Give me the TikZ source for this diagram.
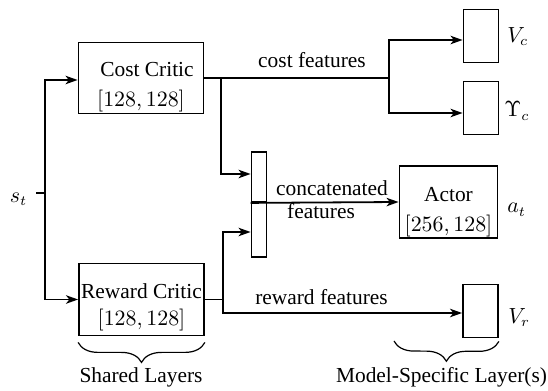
\documentclass[tikz,border=0pt]{standalone}
\usepackage[no-math]{fontspec}
\setmainfont{LiberationSerif}[Extension=.ttf, UprightFont=*-Regular, BoldFont=*-Bold, ItalicFont=*-Italic]
\usetikzlibrary{arrows.meta,decorations.pathreplacing}
\begin{document}
\begin{tikzpicture}[x=0.5pt,y=-0.5pt,
  font=\fontsize{10.7}{13}\selectfont,
  box/.style={draw, line width=0.9pt, inner sep=0pt, align=center},
  conn/.style={line width=0.9pt},
  arr/.style={conn, -{Stealth[length=6pt,width=4.2pt,inset=1.6pt]}},
  lbl/.style={inner sep=0pt},
  brc/.style={decorate, decoration={brace, mirror, amplitude=10pt}, line width=0.6pt}]
\useasboundingbox (0,0) rectangle (548,391);

% boxes
\node[box, minimum width=62.5pt, minimum height=35.5pt] (cost) at (141,78)
  {\rule{0pt}{16pt}\hspace*{6pt}Cost Critic\\[2pt]$[128, 128]$\rule[-3pt]{0pt}{3pt}};
\node[box, minimum width=62.5pt, minimum height=36pt] (reward) at (141.5,299.5)
  {\rule{0pt}{15.5pt}Reward Critic\\[0.7pt]$[128, 128]$\rule[-3pt]{0pt}{3pt}};
\node[box, minimum width=49pt, minimum height=35.5pt] (actor) at (448.5,202)
  {\rule{0pt}{17.85pt}Actor\\[1.85pt]$[256, 128]$\rule[-3pt]{0pt}{3pt}};
\node[box, minimum width=17.5pt, minimum height=26.5pt] (vc) at (481,36) {};
\node[box, minimum width=17.5pt, minimum height=26.5pt] (uc) at (481,108) {};
\node[box, minimum width=17.5pt, minimum height=26.5pt] (vr) at (480.5,311) {};
\node[box, minimum width=7.5pt, minimum height=25pt] (cat1) at (259,177) {};
\node[box, minimum width=7.5pt, minimum height=27.5pt] (cat2) at (259,229.5) {};

% input
\node[lbl, inner sep=4pt] (st) at (18.5,199) {$s_t$};
\coordinate (split) at (45,193);
\draw[conn] (split) -- (split -| st.east);
\draw[arr] (split) |- ([yshift=-1pt]cost.west);
\draw[arr] (split) |- (reward.west);

% cost branch
\coordinate (cb) at (221,78);
\coordinate (cf) at (389,78);
\draw[conn] (cost.east) -- (cf);
\draw[arr] (cf) |- ([yshift=-2pt]vc.west);
\draw[arr] (cf) |- ([yshift=-2.5pt]uc.west);
\draw[arr] (cb) |- ([yshift=1.5pt]cat1.west);

% concat to actor
\draw[arr] (cat1.south west) -- (actor.west);

% reward branch
\coordinate (rb) at (223,299.5);
\draw[conn] (reward.east) -- (rb);
\draw[arr] (rb) |- ([yshift=-1.25pt]cat2.west);
\draw[arr] (rb) |- ([yshift=-1pt]vr.west);

% labels
\node[lbl, anchor=base] (cfl) at (312,68) {cost features};
\node[lbl, anchor=base] (rfl) at (321.5,305) {reward features};
\node[lbl, anchor=base] (ccl) at (332,195.5) {concatenated};
\node[lbl, anchor=base] (ftl) at (321,218.5) {features};
\node[lbl, anchor=base west] (vcl) at (507,42) {$V_c$};
\node[lbl, anchor=base west] (ucl) at (504,117) {$\Upsilon_c$};
\node[lbl, anchor=base west] (vrl) at (508,323) {$V_r$};
\node[lbl, anchor=base west] (atl) at (507,213) {$a_t$};

% braces
\draw[brc] ([yshift=-3pt]reward.south west) -- ([yshift=-3pt]reward.south east);
\coordinate (msb) at (394,341);
\draw[brc] (msb) -- ([yshift=-1.5pt]vr.south east);
\node[lbl, anchor=base] (sll) at (141,383) {Shared Layers};
\node[lbl, anchor=base] (msl) at (441.5,383) {Model-Specific Layer(s)};
\end{tikzpicture}
\end{document}
